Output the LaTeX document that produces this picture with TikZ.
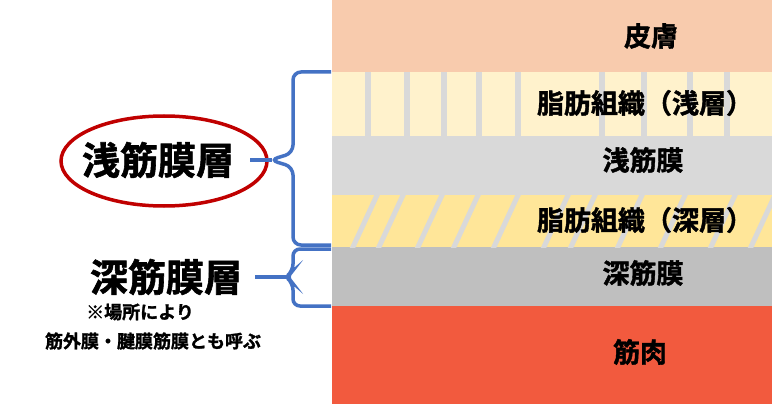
\documentclass[tikz,border=0pt]{standalone}
\usepackage{fontspec}
\setmainfont{Noto Sans CJK JP}
\newfontfamily\jpb{Noto Sans CJK JP Bold}[FakeBold=1.5]
\begin{document}
\begin{tikzpicture}[x=1pt,y=-1pt,
  lbl/.style={font=\jpb\fontsize{27}{29}\selectfont,inner sep=0pt},
  big/.style={font=\jpb\fontsize{38}{40}\selectfont,inner sep=0pt},
  small/.style={font=\jpb\fontsize{18}{20}\selectfont,inner sep=0pt}]
\definecolor{skin}{HTML}{F8CBAD}
\definecolor{fatA}{HTML}{FFF2CC}
\definecolor{fasc}{HTML}{D9D9D9}
\definecolor{fatB}{HTML}{FFE699}
\definecolor{deep}{HTML}{BFBFBF}
\definecolor{musc}{HTML}{F25A3E}
\definecolor{bl}{HTML}{4472C4}
\definecolor{rd}{HTML}{C00000}
\useasboundingbox (0,0) rectangle (772,404);
\fill[skin] (332,0) rectangle (772,72);
\fill[fatA] (332,72) rectangle (772,136);
\fill[fasc] (332,136) rectangle (772,195);
\fill[fatB] (332,195) rectangle (772,247);
\fill[deep] (332,247) rectangle (772,306);
\fill[musc] (332,306) rectangle (772,404);
\foreach \x in {368,407,444,479,518,602,644,690,727}
  \fill[fasc] (\x-3,72) rectangle (\x+3,136);
\begin{scope}
\clip (332,195) rectangle (772,247);
\foreach \x in {352,378,417,453,493,543,570,617,660,710,750}
  \draw[fasc,line width=5pt] (\x,249) -- (\x+26,193);
\end{scope}
\node[lbl] (skinl) at (651,36) {皮膚};
\node[lbl] (fatAl) at (645,103) {脂肪組織（浅層）};
\node[lbl] (fascl) at (643,160) {浅筋膜};
\node[lbl] (fatBl) at (645,220) {脂肪組織（深層）};
\node[lbl] (deepl) at (643,273) {深筋膜};
\node[lbl] (muscl) at (640,352) {筋肉};
\node[big] (sup) at (158,160) {浅筋膜層};
\draw[rd,line width=3.5pt] (164,161) ellipse [x radius=103,y radius=45];
\node[big] (dp) at (166,277) {深筋膜層};
\node[small] (n1) at (140,312) {※場所により};
\node[small] (n2) at (153,341) {筋外膜・腱膜筋膜とも呼ぶ};
\coordinate (t1) at (250,160);
\coordinate (t2) at (255,277);
\draw[bl,line width=3.5pt,rounded corners=8pt] (331,72) -- (293,72) -- (293,153) -- (270,160) -- (293,167) -- (293,245) -- (331,245);
\draw[bl,line width=3.5pt] (t1) -- (272,160);
\draw[bl,line width=3.5pt,rounded corners=7pt] (331,249) -- (293,249) -- (293,271) -- (286,277) -- (293,283) -- (293,306) -- (331,306);
\draw[bl,line width=3.5pt] (t2) -- (288,277);
\end{tikzpicture}
\end{document}
